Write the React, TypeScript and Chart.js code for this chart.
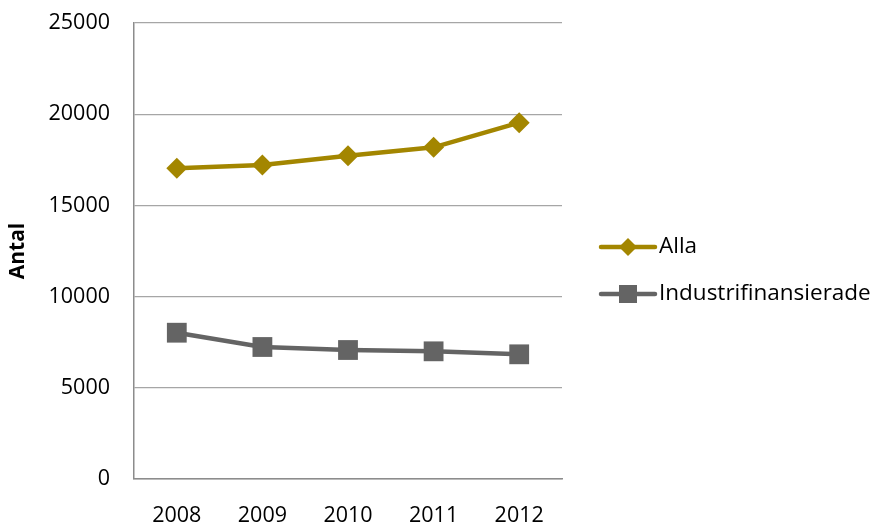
import { useEffect, useRef } from 'react';
import { Chart, registerables } from 'chart.js';

Chart.register(...registerables);

// Data
const years = ['2008', '2009', '2010', '2011', '2012'];
const allaValues = [17030, 17215, 17725, 18185, 19535];
const industriValues = [8020, 7237, 7072, 7000, 6836];
const seriesNames = ['Alla', 'Industrifinansierade'];
const yMin = 0;
const yMax = 25000;
const yStep = 5000;
const yTitle = 'Antal';

const FONT = '"Open Sans", "Liberation Sans", sans-serif';
const FONT_SIZE = 21.5;
const LEGEND_FONT_SIZE = 22.5;
const GOLD = '#A38600';
const GREY = '#646464';

// Legend drawn as line + marker samples to the right of the plot
const lineLegend = {
  id: 'lineLegend',
  afterDraw(chart: any) {
    const { ctx, chartArea } = chart;
    const x0 = chartArea.right + 39;
    const x1 = x0 + 54;
    const cx = (x0 + x1) / 2;
    const rows = [chartArea.top + 224, chartArea.top + 271];
    chart.data.datasets.forEach((ds: any, i: number) => {
      const y = rows[i];
      ctx.save();
      ctx.strokeStyle = ds.borderColor;
      ctx.lineWidth = ds.borderWidth;
      ctx.lineCap = 'round';
      ctx.beginPath();
      ctx.moveTo(x0, y);
      ctx.lineTo(x1, y);
      ctx.stroke();
      ctx.fillStyle = ds.borderColor;
      ctx.beginPath();
      if (ds.pointStyle === 'rectRot') {
        const r = 9;
        ctx.moveTo(cx, y - r);
        ctx.lineTo(cx + r, y);
        ctx.lineTo(cx, y + r);
        ctx.lineTo(cx - r, y);
        ctx.closePath();
      } else {
        const h = 9;
        ctx.rect(cx - h, y - h, 2 * h, 2 * h);
      }
      ctx.fill();
      ctx.fillStyle = '#000';
      ctx.font = `${LEGEND_FONT_SIZE}px ${FONT}`;
      ctx.textAlign = 'left';
      ctx.textBaseline = 'middle';
      ctx.fillText(ds.label, x1 + 4, y);
      ctx.restore();
    });
  },
};

export default function App() {
  const ref = useRef<HTMLCanvasElement>(null);

  useEffect(() => {
    if (!ref.current) return;
    const chart = new Chart(ref.current, {
      type: 'line',
      data: {
        labels: years,
        datasets: [
          {
            label: seriesNames[0],
            data: allaValues,
            borderColor: GOLD,
            backgroundColor: GOLD,
            borderWidth: 4.5,
            pointStyle: 'rectRot',
            pointRadius: 10.5,
            pointHoverRadius: 10.5,
            pointBorderWidth: 0,
            pointBackgroundColor: GOLD,
            tension: 0,
          },
          {
            label: seriesNames[1],
            data: industriValues,
            borderColor: GREY,
            backgroundColor: GREY,
            borderWidth: 4.5,
            pointStyle: 'rect',
            pointRadius: 14,
            pointHoverRadius: 14,
            pointBorderWidth: 0,
            pointBackgroundColor: GREY,
            tension: 0,
          },
        ],
      },
      options: {
        responsive: false,
        animation: false,
        layout: { autoPadding: false, padding: { top: 23, right: 318, bottom: 0, left: 0 } },
        plugins: {
          legend: { display: false },
          tooltip: { enabled: false },
        },
        scales: {
          x: {
            offset: true,
            grid: { display: false, drawTicks: false },
            border: { display: true, color: '#8C8C8C', width: 1.5 },
            ticks: {
              color: '#000',
              font: { family: FONT, size: FONT_SIZE },
              padding: 24,
            },
            afterFit(scale: any) {
              scale.height = 46;
              scale.paddingLeft = 0;
              scale.paddingRight = 0;
            },
          },
          y: {
            min: yMin,
            max: yMax,
            grid: { color: '#A6A6A6', lineWidth: 1.2, drawTicks: false },
            border: { display: true, color: '#8C8C8C', width: 1.5 },
            ticks: {
              stepSize: yStep,
              color: '#000',
              font: { family: FONT, size: FONT_SIZE },
              padding: 24,
              callback: (v: any) => String(v),
            },
            title: {
              display: true,
              text: yTitle,
              color: '#000',
              font: { family: FONT, size: 21, weight: 'bold' },
              padding: { top: 5, bottom: 0 },
            },
            afterFit(scale: any) {
              scale.width = 134;
              scale.paddingTop = 0;
              scale.paddingBottom = 0;
            },
          },
        },
      },
      plugins: [lineLegend],
    });
    return () => chart.destroy();
  }, []);

  return (
    <div style={{ position: 'fixed', left: 0, top: 0, width: 880, height: 525, background: '#fff' }}>
      <canvas ref={ref} width={880} height={525} style={{ display: 'block' }} />
    </div>
  );
}
